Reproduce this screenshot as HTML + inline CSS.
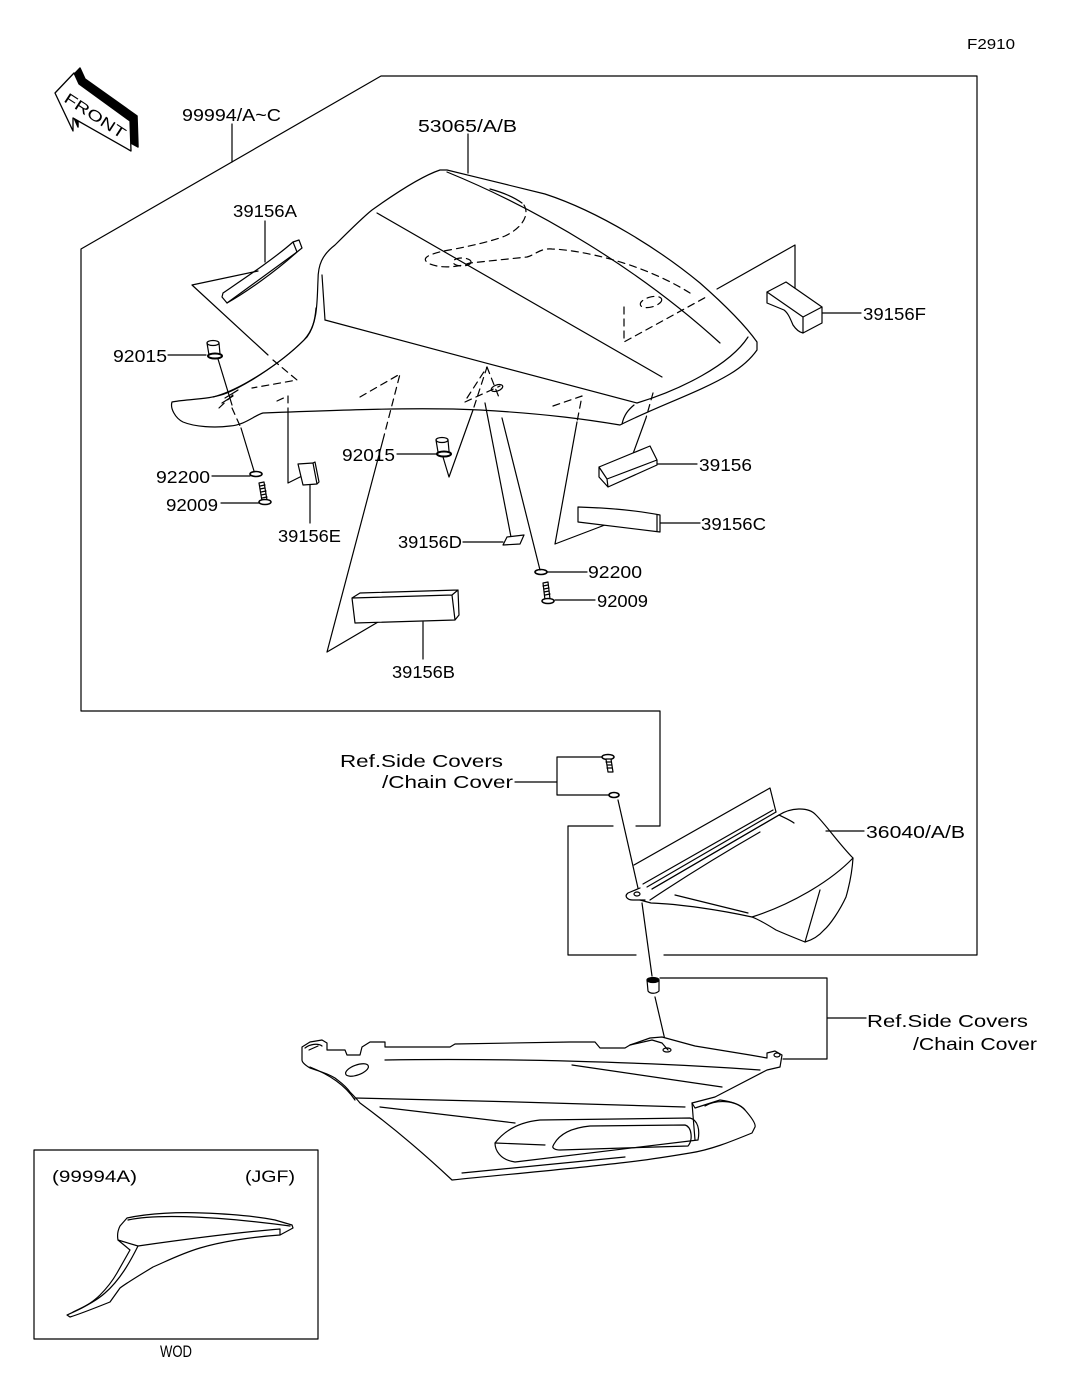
<!DOCTYPE html>
<html><head><meta charset="utf-8"><style>
html,body{margin:0;padding:0;background:#fff;}
svg{display:block;}
text{font-family:"Liberation Sans",sans-serif;fill:#000;stroke:none;}
</style></head><body>
<svg xmlns="http://www.w3.org/2000/svg" width="1067" height="1378" viewBox="0 0 1067 1378">
<rect width="1067" height="1378" fill="#fff"/>

<!-- labels -->
<g font-size="17.5">
<text x="967" y="49" font-size="15" textLength="48" lengthAdjust="spacingAndGlyphs">F2910</text>
<text x="182" y="121" textLength="99" lengthAdjust="spacingAndGlyphs">99994/A~C</text>
<text x="418" y="132" textLength="99" lengthAdjust="spacingAndGlyphs">53065/A/B</text>
<text x="233" y="217" textLength="64" lengthAdjust="spacingAndGlyphs">39156A</text>
<text x="113" y="362" textLength="54" lengthAdjust="spacingAndGlyphs">92015</text>
<text x="863" y="320" textLength="63" lengthAdjust="spacingAndGlyphs">39156F</text>
<text x="156" y="483" textLength="54" lengthAdjust="spacingAndGlyphs">92200</text>
<text x="166" y="511" textLength="52" lengthAdjust="spacingAndGlyphs">92009</text>
<text x="278" y="542" textLength="63" lengthAdjust="spacingAndGlyphs">39156E</text>
<text x="342" y="461" textLength="53" lengthAdjust="spacingAndGlyphs">92015</text>
<text x="398" y="548" textLength="64" lengthAdjust="spacingAndGlyphs">39156D</text>
<text x="392" y="678" textLength="63" lengthAdjust="spacingAndGlyphs">39156B</text>
<text x="699" y="471" textLength="53" lengthAdjust="spacingAndGlyphs">39156</text>
<text x="701" y="530" textLength="65" lengthAdjust="spacingAndGlyphs">39156C</text>
<text x="588" y="578" textLength="54" lengthAdjust="spacingAndGlyphs">92200</text>
<text x="597" y="607" textLength="51" lengthAdjust="spacingAndGlyphs">92009</text>
<text x="340" y="767" textLength="163" lengthAdjust="spacingAndGlyphs">Ref.Side Covers</text>
<text x="382" y="788" textLength="131" lengthAdjust="spacingAndGlyphs">/Chain Cover</text>
<text x="866" y="838" textLength="99" lengthAdjust="spacingAndGlyphs">36040/A/B</text>
<text x="867" y="1027" textLength="161" lengthAdjust="spacingAndGlyphs">Ref.Side Covers</text>
<text x="913" y="1050" textLength="124" lengthAdjust="spacingAndGlyphs">/Chain Cover</text>
<text x="52" y="1182" font-size="17" textLength="85" lengthAdjust="spacingAndGlyphs">(99994A)</text>
<text x="245" y="1182" font-size="17" textLength="50" lengthAdjust="spacingAndGlyphs">(JGF)</text>
<text x="160" y="1357" font-size="17" textLength="32" lengthAdjust="spacingAndGlyphs">WOD</text>
</g>

<!-- FRONT arrow -->
<polygon points="61,88 80,68 85,79 137,116 138,147 78,114 78,127" fill="#000" stroke="#000" stroke-width="1.5" stroke-linejoin="round"/>
<polygon points="55,93 74,73 79,84 130,121 131,151 73,118 73,131" fill="#fff" stroke="#000" stroke-width="1.3" stroke-linejoin="round"/>
<text transform="translate(63,101) rotate(33)" font-size="15" textLength="70" lengthAdjust="spacingAndGlyphs">FRONT</text>

<g fill="none" stroke="#000" stroke-width="1.2" stroke-linejoin="round" stroke-linecap="round">
<!-- main outline -->
<polyline points="613,826 568,826 568,955 636,955"/>
<polyline points="636,826 660,826 660,711 81,711 81,249 381,76 977,76 977,955 664,955"/>
<!-- inset box -->
<rect x="34" y="1150" width="284" height="189"/>

<!-- leaders -->
<path d="M232,124 L232,162"/>
<path d="M468,134 L468,173"/>
<path d="M265,221 L265,262"/>
<path d="M168,355 L206,355"/>
<path d="M822,313 L861,313"/>
<path d="M212,476 L250,476"/>
<path d="M221,503 L260,503"/>
<path d="M310,485 L310,523"/>
<path d="M397,454 L437,454"/>
<path d="M463,542 L503,542"/>
<path d="M423,622 L423,659"/>
<path d="M657,464 L697,464"/>
<path d="M660,523 L700,523"/>
<path d="M547,572 L587,572"/>
<path d="M555,600 L595,600"/>
<path d="M515,782 L557,782 M557,757 L557,795 M557,757 L603,757 M557,795 L609,795"/>
<path d="M826,831 L864,831"/>
<path d="M660,978 L827,978 L827,1059 L783,1059 M827,1018 L866,1018"/>

<!-- seat cowl 53065 -->
<path d="M172,402 C185,399 210,400 227,393 C250,383 285,360 307,337 C318,322 317,300 318,280 C318,265 322,255 335,245 C350,230 362,218 372,210 C400,190 425,175 440,170 L447,170 C480,178 520,188 545,194 C600,212 660,250 700,283 C725,305 745,325 757,342 L757,350 C750,360 740,368 730,374 C700,392 660,405 620,425 C590,420 550,414 480,410 C420,407 340,410 263,413 C255,415 245,425 230,426 C215,428 195,427 183,422 C175,418 170,408 172,402 Z"/>
<path d="M213,397 C240,390 280,364 304,340 C313,330 315,320 316,308"/>
<path d="M322,275 C323,290 324,305 325,320"/>
<path d="M325,320 C420,345 540,378 637,403 C680,390 730,365 748,337"/>
<path d="M377,213 L662,377"/>
<path d="M447,172 C540,210 640,270 720,343"/>
<path d="M622,424 C624,415 628,410 634,405"/>
<path d="M490,189 C505,193 515,198 522,203"/>
<g stroke-dasharray="7,5">
<path d="M524,205 C530,215 522,228 505,236 C495,240 480,244 455,249 C430,253 418,258 430,264 C440,268 455,268 470,263 L527,257 C535,255 540,248 552,249 C580,250 640,262 690,293"/>
<ellipse cx="462" cy="262" rx="9" ry="4"/>
<ellipse cx="651" cy="302" rx="11" ry="5" transform="rotate(-15 651 302)"/>
<path d="M624,307 L624,342 L708,296"/>
<path d="M273,360 L297,380 L252,388"/>
<path d="M219,408 L236,392"/>
<path d="M277,401 L288,396 L288,410"/>
<path d="M360,397 L400,374 L384,436"/>
<path d="M467,398 L487,367 L473,410"/>
<path d="M487,367 L500,400"/>
<path d="M465,402 L500,386"/>
<path d="M553,406 L582,396 L577,422"/>
<path d="M653,393 L646,418"/>
<path d="M232,408 L241,428"/>
</g>
<ellipse cx="497" cy="388" rx="6" ry="3" transform="rotate(-20 497 388)"/>
<path d="M225,398 C230,395 235,392 238,390 M222,403 L233,396"/>

<!-- 39156A -->
<path d="M222,297 L227,303 C245,293 275,272 297,252 L302,248 L299,240 L293,242 C275,258 245,278 223,293 Z" fill="#fff"/>
<path d="M293,242 L297,252 L227,303"/>
<path d="M258,271 L192,285 L268,355"/>

<!-- 92015 left -->
<ellipse cx="213" cy="343" rx="6" ry="2.5" fill="#fff"/>
<path d="M207,343 L209,355 M219,343 L220,354"/>
<ellipse cx="215" cy="356" rx="7" ry="2.5" stroke-width="2"/>
<path d="M218,359 L232,405"/>
<path d="M241,428 L254,471"/>

<!-- 92200 / 92009 left -->
<ellipse cx="256" cy="474" rx="6" ry="2.5" stroke-width="1.6"/>
<path d="M259,483 L264,482 L267,500 L262,501 Z" fill="#fff"/>
<path d="M260,486 L265,485 M260,489 L265,488 M261,492 L266,491 M261,495 L266,494 M262,498 L267,497"/>
<ellipse cx="265" cy="502" rx="6" ry="2.5" fill="#fff" stroke-width="1.5"/>

<!-- 39156E -->
<path d="M288,410 L288,483 L308,473"/>
<path d="M298,464 L313,463 L317,484 L303,485 Z M313,463 L315,462 L319,482 L317,484" fill="#fff"/>

<!-- 92015 center -->
<ellipse cx="442" cy="440" rx="6" ry="2.5" fill="#fff"/>
<path d="M436,440 L438,452 M448,440 L449,451"/>
<ellipse cx="444" cy="454" rx="7" ry="2.5" stroke-width="2"/>
<path d="M443,457 L449,477 L473,410"/>

<!-- 39156D -->
<path d="M485,403 L511,537"/>
<path d="M503,545 L507,537 L524,535 L520,544 Z" fill="#fff"/>

<!-- 92200/92009 right -->
<path d="M502,418 L540,570"/>
<ellipse cx="541" cy="572" rx="6" ry="2.5" stroke-width="1.6"/>
<path d="M543,583 L548,582 L550,599 L545,600 Z" fill="#fff"/>
<path d="M543,586 L548,585 M544,589 L549,588 M544,592 L549,591 M545,595 L550,594"/>
<ellipse cx="548" cy="601" rx="6" ry="2.5" fill="#fff" stroke-width="1.5"/>

<!-- 39156B -->
<path d="M384,436 L327,652 L402,608"/>
<path d="M352,598 L452,595 L455,620 L355,623 Z M352,598 L360,593 L458,590 L452,595 M458,590 L459,615 L455,620" fill="#fff"/>

<!-- 39156C -->
<path d="M577,422 L555,544 L618,520"/>
<path d="M578,507 C610,508 640,511 660,515 L660,532 L578,522 Z" fill="#fff"/>
<path d="M657,515 L657,531"/>

<!-- 39156 -->
<path d="M646,418 L630,462"/>
<path d="M599,467 L650,446 L657,460 L657,465 L608,487 L599,477 Z M599,467 L607,479 L657,460 M607,479 L608,487" fill="#fff"/>

<!-- 39156F -->
<path d="M717,289 L795,245 L795,298"/>
<path d="M767,292 L786,282 L822,307 L822,323 L803,333 C798,332 795,328 793,325 C790,318 788,313 784,310 L767,303 Z" fill="#fff"/>
<path d="M767,292 L803,317 L822,307 M803,317 L803,333"/>

<!-- Ref side covers screw/washer top -->
<ellipse cx="608" cy="757" rx="6" ry="2.5" fill="#fff" stroke-width="1.5"/>
<path d="M606,759 L611,759 L613,772 L608,772 Z" fill="#fff"/>
<path d="M606,762 L611,762 M607,765 L612,765 M607,768 L612,768"/>
<ellipse cx="614" cy="795" rx="5" ry="2.5" stroke-width="1.6"/>
<path d="M618,800 L640,897"/>
<path d="M642,903 L652,976"/>

<!-- 36040 -->
<path d="M634,865 L770,788 L776,812"/>
<path d="M643,884 L773,810 M647,887 L776,812 M652,889 L779,815"/>
<path d="M640,888 L628,893 C624,896 627,900 633,900 L645,900" fill="#fff"/>
<ellipse cx="637" cy="894" rx="3" ry="2"/>
<path d="M652,889 L779,815 C790,808 808,806 816,815 C826,825 840,845 853,858 C852,875 848,890 846,897 C840,910 830,925 824,930 C818,937 812,940 805,942 C795,938 785,934 776,930 C768,925 760,920 752,917 C720,910 680,904 651,903 L640,900"/>
<path d="M752,917 C790,905 830,882 853,858"/>
<path d="M820,890 L805,942"/>
<path d="M675,895 L748,913"/>
<path d="M650,900 C680,880 720,855 760,832"/>
<path d="M779,815 C785,818 790,820 794,823"/>

<!-- bottom nut -->
<ellipse cx="653" cy="980" rx="6" ry="2.5" fill="#000"/>
<path d="M647,980 L648,991 C650,994 656,994 659,991 L659,980"/>
<path d="M655,997 L665,1040"/>

<!-- side cover -->
<path d="M302,1047 L310,1042 L322,1040 L327,1043 L327,1050 L345,1050 L347,1055 L360,1055 L362,1047 L370,1042 L385,1042 L385,1047 L450,1047 L455,1044 L570,1042 L595,1042 L600,1048 L625,1048 L630,1045 L650,1038 L662,1037 L695,1046 L750,1055 L767,1058 L767,1053 L775,1051 L782,1055 L780,1067 L767,1070 L715,1097 L692,1103 L695,1108 L720,1100 C735,1102 742,1106 745,1110 C752,1118 756,1124 755,1127 L752,1133 C730,1142 710,1150 690,1153 C660,1158 640,1161 620,1163 C560,1170 500,1175 452,1180 C420,1150 390,1125 360,1103 C356,1098 353,1095 350,1092 C345,1085 340,1082 335,1078 C325,1072 315,1070 310,1068 C305,1065 302,1062 302,1060 Z" fill="#fff"/>
<path d="M310,1067 C330,1075 345,1085 355,1100"/>
<ellipse cx="357" cy="1070" rx="12" ry="5" transform="rotate(-20 357 1070)"/>
<path d="M385,1060 C500,1058 650,1062 760,1070"/>
<path d="M572,1065 L722,1087"/>
<path d="M355,1098 C450,1100 600,1104 685,1107"/>
<path d="M380,1107 L515,1123"/>
<path d="M495,1143 C505,1130 520,1122 540,1120 L690,1118 C698,1120 700,1130 698,1140 L515,1162 C500,1160 495,1150 495,1143 Z"/>
<path d="M553,1146 C558,1135 570,1128 590,1126 L685,1125 C692,1127 693,1140 688,1146 L560,1150 C555,1150 552,1148 553,1146 Z"/>
<path d="M462,1173 L625,1157"/>
<path d="M495,1143 L545,1145"/>
<path d="M692,1103 L695,1140"/>
<path d="M705,1106 C715,1100 735,1099 745,1110"/>
<path d="M630,1045 L652,1040 L662,1043 L668,1050"/>
<ellipse cx="667" cy="1050" rx="4" ry="2"/>
<ellipse cx="777" cy="1055" rx="3" ry="2"/>
<path d="M305,1048 C310,1044 318,1043 322,1046 M309,1050 L318,1046"/>

<!-- inset part -->
<path d="M67,1315 C78,1310 90,1305 100,1295 C108,1287 113,1280 117,1273 L130,1250 L118,1240 C117,1235 118,1230 120,1226 L127,1218 C150,1213 180,1212 203,1213 C230,1214 255,1216 275,1220 L292,1225 L293,1228 L280,1235 C250,1237 220,1242 200,1248 C180,1254 165,1262 153,1267 C140,1275 128,1282 120,1288 L110,1302 C95,1308 80,1314 70,1317 Z"/>
<path d="M118,1240 L138,1246 C180,1240 230,1233 280,1229 L280,1235"/>
<path d="M138,1246 C130,1262 120,1280 105,1293 C95,1302 82,1308 73,1312"/>
<path d="M128,1220 C150,1215 200,1214 290,1226"/>
</g>
</svg>
</body></html>
